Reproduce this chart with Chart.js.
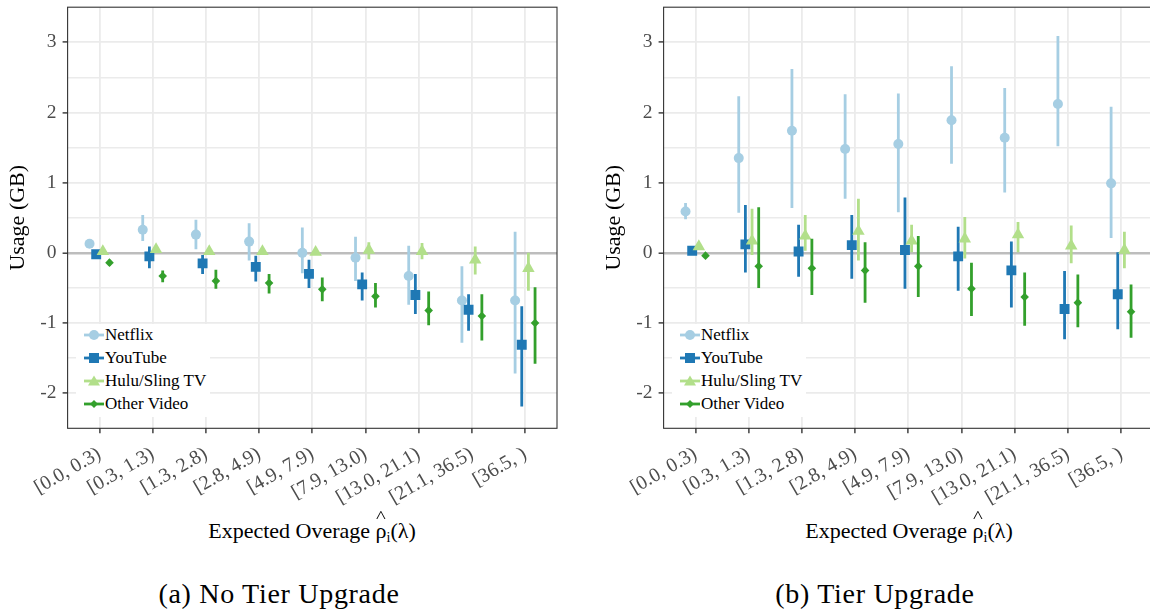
<!DOCTYPE html>
<html><head><meta charset="utf-8">
<script src="https://cdn.jsdelivr.net/npm/chart.js@4.4.1/dist/chart.umd.min.js"></script>
<style>
html,body{margin:0;padding:0;background:#fff;width:1150px;height:614px;overflow:hidden;position:relative;font-family:'Liberation Serif','DejaVu Serif',serif;}
.wrap{position:absolute;top:0;width:575px;height:510px;}
.legend{position:absolute;top:324px;background:#fff;padding:0 4px 2px 8px;font-size:17px;color:#000;}
.legend .row{height:22.8px;display:flex;align-items:center;white-space:nowrap;}
.legend svg{width:20px;height:14px;margin-right:1px;}
.xtitle{position:absolute;top:517px;width:340px;text-align:center;font-size:22px;line-height:28px;color:#000;}
.rho{position:relative;display:inline-block;}
.hat{position:absolute;left:50%;top:-14px;transform:translateX(-50%) scaleX(1.3);font-size:16px;}
.xtitle sub{font-size:14px;vertical-align:-4px;}
.caption{position:absolute;top:578px;width:400px;text-align:center;font-size:28px;line-height:32px;letter-spacing:0.7px;color:#000;}
</style></head>
<body>
<div class="wrap" style="left:0"><canvas id="c1"></canvas></div>
<div class="wrap" style="left:596px"><canvas id="c2"></canvas></div>
<div class="legend" id="lg1" style="left:76px"></div>
<div class="legend" id="lg2" style="left:672px"></div>
<div class="xtitle" style="left:142px">Expected Overage <span class="rho">ρ<span class="hat">^</span></span><sub>i</sub>(λ)</div>
<div class="xtitle" style="left:739px">Expected Overage <span class="rho">ρ<span class="hat">^</span></span><sub>i</sub>(λ)</div>
<div class="caption" style="left:79px">(a) No Tier Upgrade</div>
<div class="caption" style="left:675px">(b) Tier Upgrade</div>
<script>
const categories = ['[0.0, 0.3)','[0.3, 1.3)','[1.3, 2.8)','[2.8, 4.9)','[4.9, 7.9)','[7.9, 13.0)','[13.0, 21.1)','[21.1, 36.5)','[36.5, )'];
const seriesNames = ['Netflix','YouTube','Hulu/Sling TV','Other Video'];
const yTickValues = [-2,-1.5,-1,-0.5,0,0.5,1,1.5,2,2.5,3];

// (a) No Tier Upgrade
const noUpNetflix   = [0.13,0.33,0.26,0.16,0.00,-0.07,-0.33,-0.68,-0.68];
const noUpNetflixLo = [0.09,0.17,0.05,-0.11,-0.29,-0.40,-0.74,-1.28,-1.72];
const noUpNetflixHi = [0.17,0.54,0.47,0.42,0.36,0.23,0.10,-0.19,0.30];
const noUpYouTube   = [-0.02,-0.05,-0.15,-0.20,-0.30,-0.45,-0.60,-0.81,-1.31];
const noUpYouTubeLo = [-0.07,-0.22,-0.30,-0.41,-0.50,-0.68,-0.87,-1.11,-2.19];
const noUpYouTubeHi = [0.03,0.09,-0.03,-0.04,-0.10,-0.28,-0.30,-0.59,-0.76];
const noUpHulu      = [0.02,0.05,0.02,0.02,0.01,0.04,0.02,-0.10,-0.22];
const noUpHuluLo    = [-0.02,0.01,-0.02,-0.02,-0.03,-0.09,-0.09,-0.31,-0.54];
const noUpHuluHi    = [0.06,0.09,0.06,0.06,0.05,0.15,0.14,0.09,0.00];
const noUpOther     = [-0.14,-0.33,-0.40,-0.43,-0.52,-0.62,-0.82,-0.90,-1.00];
const noUpOtherLo   = [-0.18,-0.42,-0.51,-0.58,-0.69,-0.78,-1.03,-1.25,-1.58];
const noUpOtherHi   = [-0.10,-0.25,-0.24,-0.30,-0.35,-0.43,-0.55,-0.59,-0.49];

// (b) Tier Upgrade
const upNetflix   = [0.59,1.35,1.74,1.48,1.55,1.89,1.64,2.12,0.99];
const upNetflixLo = [0.48,0.57,0.64,0.77,0.58,1.27,0.86,1.52,0.21];
const upNetflixHi = [0.71,2.23,2.62,2.26,2.27,2.66,2.35,3.09,2.08];
const upYouTube   = [0.03,0.12,0.02,0.11,0.04,-0.05,-0.25,-0.80,-0.59];
const upYouTubeLo = [-0.01,-0.28,-0.34,-0.37,-0.51,-0.54,-0.78,-1.23,-1.09];
const upYouTubeHi = [0.07,0.68,0.40,0.54,0.79,0.37,0.16,-0.26,0.01];
const upHulu      = [0.09,0.17,0.24,0.31,0.17,0.20,0.26,0.10,0.04];
const upHuluLo    = [0.05,-0.03,0.03,-0.11,0.01,-0.08,0.01,-0.15,-0.22];
const upHuluHi    = [0.13,0.63,0.54,0.77,0.40,0.51,0.44,0.39,0.30];
const upOther     = [-0.04,-0.19,-0.22,-0.25,-0.19,-0.51,-0.63,-0.71,-0.84];
const upOtherLo   = [-0.07,-0.50,-0.60,-0.71,-0.63,-0.90,-1.04,-1.06,-1.21];
const upOtherHi   = [-0.01,0.65,0.20,0.15,0.24,-0.14,-0.28,-0.31,-0.45];

const colors = ['#a6cee3','#1f78b4','#b2df8a','#33a02c'];
const pointStyles = ['circle','rect','triangle','rectRot'];
const pointRadii = [5,7,7.2,4.3];
const dodge = [-0.1875,-0.0625,0.0625,0.1875];
const FONT = "'Liberation Serif', 'DejaVu Serif', serif";

const borderPlugin = {
  id:'panelBorder',
  afterDatasetsDraw(chart){
    const {ctx, chartArea:a} = chart;
    ctx.save(); ctx.strokeStyle='#333'; ctx.lineWidth=1.1;
    ctx.strokeRect(a.left, a.top, a.right-a.left, a.bottom-a.top);
    ctx.restore();
  }
};

function buildChart(id, series){
  const datasets = [];
  let k = 0;
  series.forEach((s, si) => {
    const off = dodge[si];
    const err = [];
    s.lo.forEach((lo, i) => { err.push({x:i+off,y:lo},{x:i+off,y:s.hi[i]},{x:i+off,y:null}); });
    datasets.push({type:'line', data:err, borderColor:colors[si], borderWidth:2.8, pointRadius:0, pointHoverRadius:0, showLine:true, spanGaps:false, borderCapStyle:'butt', order:100-(k++)});
    datasets.push({type:'scatter', data:s.mid.map((v,i)=>({x:i+off,y:v})), pointStyle:pointStyles[si], pointRadius:pointRadii[si], pointHoverRadius:pointRadii[si], backgroundColor:colors[si], borderColor:colors[si], borderWidth:0, order:100-(k++)});
  });
  return new Chart(document.getElementById(id), {
    type:'scatter',
    data:{datasets},
    plugins:[borderPlugin],
    options:{
      responsive:true, maintainAspectRatio:false, animation:false, devicePixelRatio:1,
      layout:{padding:{top:3.5,right:18,bottom:0,left:0}},
      plugins:{legend:{display:false}, tooltip:{enabled:false}},
      scales:{
        x:{
          type:'linear', min:-0.6, max:8.6,
          afterBuildTicks: sc => { sc.ticks = categories.map((c,i)=>({value:i})); },
          ticks:{autoSkip:false, maxRotation:30, minRotation:30, color:'#4d4d4d', font:{family:FONT,size:20}, padding:9, callback:v=>categories[v]},
          grid:{color:'#ebebeb', lineWidth:1.8, tickColor:'#333', tickWidth:1.4, tickLength:5},
          border:{display:false},
          afterFit: sc => { sc.height = 81.7; sc.paddingLeft = 0; sc.paddingRight = 0; }
        },
        y:{
          type:'linear', min:-2.5, max:3.5,
          afterBuildTicks: sc => { sc.ticks = yTickValues.map(v=>({value:v})); },
          ticks:{color:'#4d4d4d', font:{family:FONT,size:19.5}, padding:6, callback:v=>Number.isInteger(v)?String(v):''},
          grid:{
            color: c => (c.tick && c.tick.value===0) ? '#bdbdbd' : '#ebebeb',
            lineWidth: c => (c.tick && c.tick.value===0) ? 2.4 : ((c.tick && Number.isInteger(c.tick.value)) ? 1.8 : 1.4),
            tickColor: c => (c.tick && Number.isInteger(c.tick.value)) ? '#333' : 'rgba(0,0,0,0)',
            tickWidth:1.4, tickLength:5
          },
          title:{display:true, text:'Usage (GB)', color:'#000', font:{family:FONT,size:22}, padding:{top:5,bottom:0}},
          border:{display:false},
          afterFit: sc => { sc.width = 67.6; sc.paddingTop = 0; sc.paddingBottom = 0; }
        }
      }
    }
  });
}

buildChart('c1', [
  {mid:noUpNetflix, lo:noUpNetflixLo, hi:noUpNetflixHi},
  {mid:noUpYouTube, lo:noUpYouTubeLo, hi:noUpYouTubeHi},
  {mid:noUpHulu, lo:noUpHuluLo, hi:noUpHuluHi},
  {mid:noUpOther, lo:noUpOtherLo, hi:noUpOtherHi}
]);
buildChart('c2', [
  {mid:upNetflix, lo:upNetflixLo, hi:upNetflixHi},
  {mid:upYouTube, lo:upYouTubeLo, hi:upYouTubeHi},
  {mid:upHulu, lo:upHuluLo, hi:upHuluHi},
  {mid:upOther, lo:upOtherLo, hi:upOtherHi}
]);

const markers = [
  c => `<circle cx="10" cy="7" r="5" fill="${c}"/>`,
  c => `<rect x="5" y="2" width="10" height="10" fill="${c}"/>`,
  c => `<polygon points="10,1.5 16,11.5 4,11.5" fill="${c}"/>`,
  c => `<polygon points="10,3 14,7 10,11 6,7" fill="${c}"/>`
];
['lg1','lg2'].forEach(id => {
  const el = document.getElementById(id);
  el.innerHTML = seriesNames.map((n,i) =>
    `<div class="row"><svg viewBox="0 0 20 14"><line x1="0" y1="7" x2="20" y2="7" stroke="${colors[i]}" stroke-width="2.8"/>${markers[i](colors[i])}</svg><span>${n}</span></div>`
  ).join('');
});
</script>
</body></html>
